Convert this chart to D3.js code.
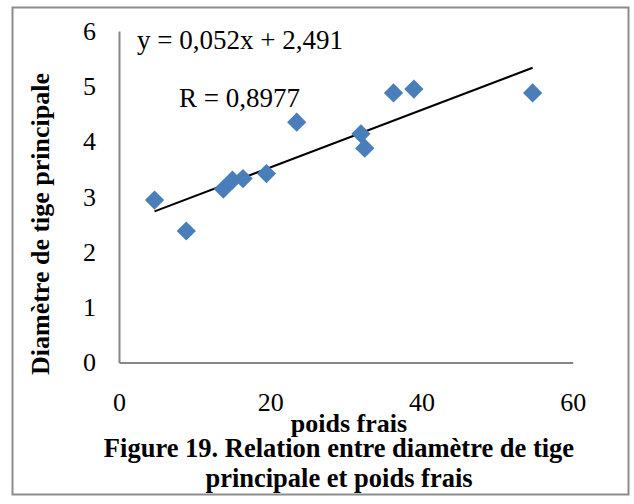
<html>
<head>
<meta charset="utf-8">
<title>Diametre vs poids frais</title>
<script src="https://cdn.jsdelivr.net/npm/d3@7"></script>
<style>
  body { margin: 0; background: #fff; }
  text { font-family: "Liberation Serif", "Times New Roman", serif; fill: #000; }
  .title { font-weight: bold; }
</style>
</head>
<body>
<svg width="634" height="504"></svg>
<script>
// poids frais (x) and diamètre de tige principale (y)
var poids = [4.7, 8.9, 13.8, 15.0, 16.4, 19.5, 23.5, 32.0, 32.5, 36.3, 39.0, 54.7];
var diametre = [2.94, 2.38, 3.14, 3.30, 3.33, 3.42, 4.35, 4.14, 3.88, 4.88, 4.95, 4.88];
var xTicks = [0, 20, 40, 60];
var yTicks = [0, 1, 2, 3, 4, 5, 6];
var slope = 0.052, intercept = 2.491;
var eqLabel = "y = 0,052x + 2,491";
var rLabel = "R = 0,8977";

var svg = d3.select("svg");

function label(px, py, rot, size, bold, anchor, str) {
  svg.append("text")
    .attr("class", bold ? "title" : null)
    .attr("transform", "translate(" + px + "," + py + ") rotate(" + rot + ")")
    .style("font-size", size + "px")
    .style("text-anchor", anchor)
    .text(str);
}

// outer frame
svg.append("rect")
  .attr("x", 12.5).attr("y", 7.5).attr("width", 616).attr("height", 487)
  .attr("fill", "none").attr("stroke", "#8c8c8c").attr("stroke-width", 2);

var x = d3.scaleLinear().domain([0, 60]).range([119, 572.7]);
var y = d3.scaleLinear().domain([0, 6]).range([362.5, 31]);

var xAxis = svg.append("g")
  .attr("transform", "translate(0," + y(0) + ")")
  .call(d3.axisBottom(x).tickValues(xTicks).tickSize(0).tickPadding(30).tickFormat(d3.format("d")));
var yAxis = svg.append("g")
  .attr("transform", "translate(" + x(0) + ",0)")
  .call(d3.axisLeft(y).tickValues(yTicks).tickSize(0).tickPadding(23).tickFormat(d3.format("d")));
[xAxis, yAxis].forEach(function (g) {
  g.attr("font-family", null).attr("font-size", null);
  g.select(".domain").attr("stroke", "#868686").attr("stroke-width", 2);
  g.selectAll("text").style("font-size", "26px").attr("fill", "#000");
});

// trend line over the data range
var xs = d3.extent(poids);
svg.append("line")
  .attr("x1", x(xs[0])).attr("y1", y(slope * xs[0] + intercept))
  .attr("x2", x(xs[1])).attr("y2", y(slope * xs[1] + intercept))
  .attr("stroke", "#000").attr("stroke-width", 2);

// diamonds
var diamond = d3.symbol().type(d3.symbolSquare).size(185);
svg.append("g").selectAll("path")
  .data(poids)
  .enter()
  .append("path")
    .attr("d", diamond)
    .attr("transform", function (d, i) {
      return "translate(" + x(d) + "," + y(diametre[i]) + ") rotate(45)";
    })
    .attr("fill", "#4a7ebb");

// equation and R
label(137, 49, 0, 27, false, "start", eqLabel);
label(179, 107, 0, 27, false, "start", rLabel);

// axis titles
label(49, 224, -90, 26, true, "middle", "Diamètre de tige principale");
label(349, 432, 0, 26, true, "middle", "poids frais");

// figure caption
label(339, 457, 0, 26.5, true, "middle", "Figure 19. Relation entre diamètre de tige");
label(339, 487, 0, 26.5, true, "middle", "principale et poids frais");
</script>
</body>
</html>
